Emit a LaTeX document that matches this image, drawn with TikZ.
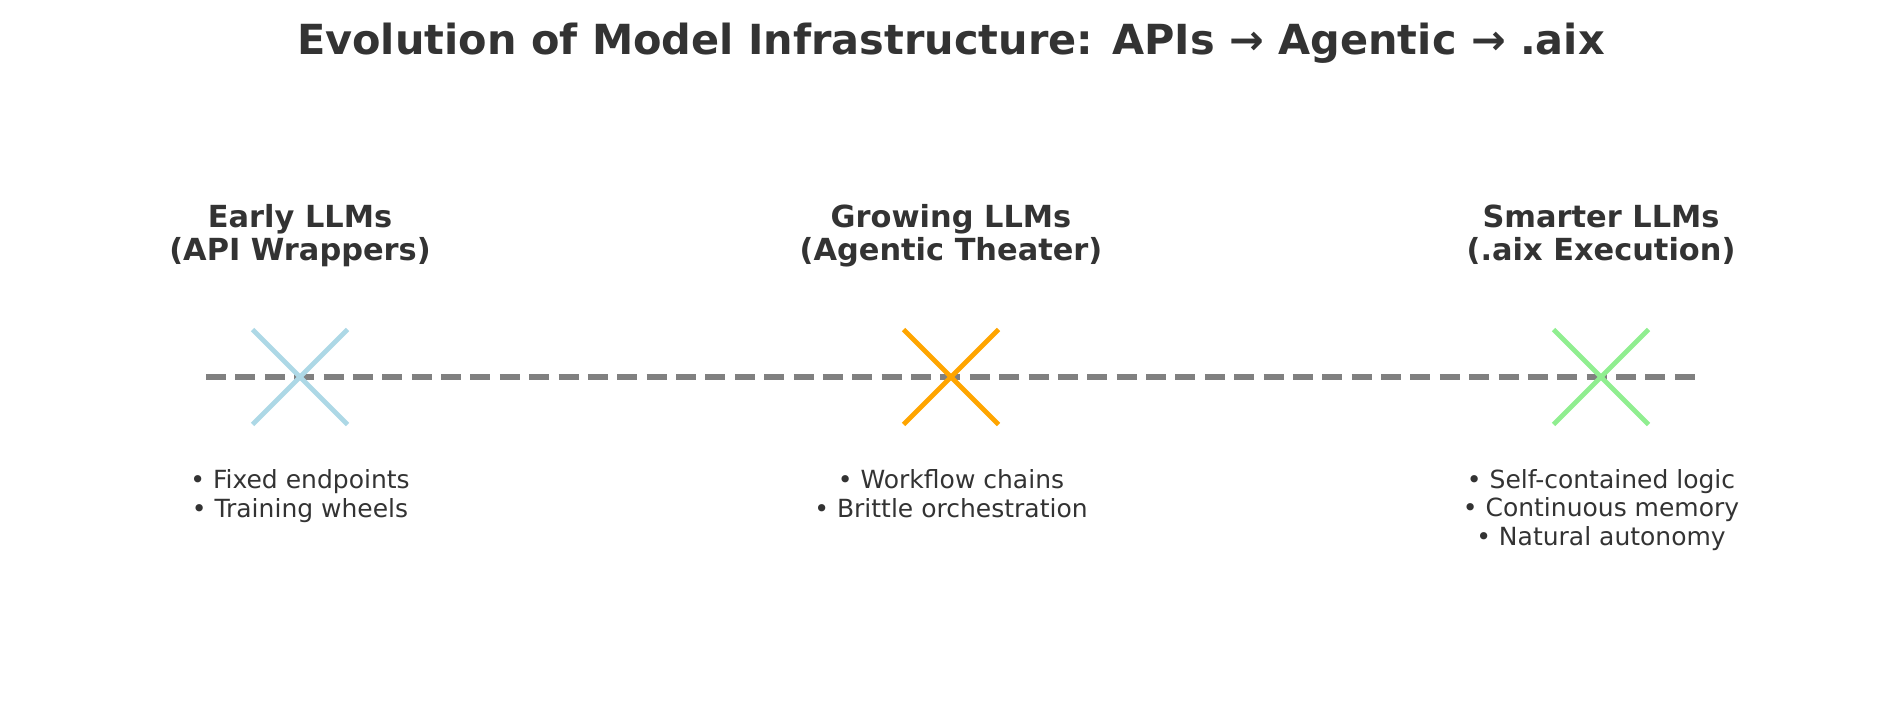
\documentclass[tikz,border=0pt]{standalone}
\usepackage{fontspec}
\setmainfont{DejaVu Sans}

\definecolor{inkgray}{RGB}{51,51,51}
\definecolor{linegray}{RGB}{128,128,128}
\definecolor{earlyblue}{RGB}{173,216,230}
\definecolor{groworange}{RGB}{255,165,0}
\definecolor{smartgreen}{RGB}{144,238,144}

\tikzset{
  headtext/.style={anchor=base, align=center, text=inkgray, inner sep=0pt,
    font=\fontsize{14.6}{16.2}\selectfont\bfseries},
  itemtext/.style={anchor=base, align=center, text=inkgray, inner sep=0pt,
    font=\fontsize{12}{13.6}\selectfont},
  timeline/.style={draw=linegray, line width=2.8pt, dash pattern=on 9.6pt off 4.5pt},
  stagemark/.style={line width=2.3pt}
}

\begin{document}
\begin{tikzpicture}[x=0.48pt, y=-0.48pt]
		\useasboundingbox (0,0) rectangle (1900,705);
		
		% Draw title
		\node (title) [anchor=base, text=inkgray, inner sep=0pt,
		  font=\fontsize{19.9}{24}\selectfont\bfseries] at (951,55)
		  {Evolution of Model Infrastructure: APIs → Agentic → .aix};
		
		% Draw time line
		\coordinate (linestart) at (206,377);
		\coordinate (lineend) at (1700,377);
		\draw [timeline] (linestart) -- (lineend);
		
		\begin{scope}[shift={(300,377)}]
		% Draw stage mark
		\coordinate (early) at (0,0);
		\draw [stagemark, earlyblue] (-47.5,-47.5) -- (47.5,47.5);
		\draw [stagemark, earlyblue] (-47.5,47.5) -- (47.5,-47.5);
		
		% Draw stage labels
		\node (earlyhead) [headtext] at (0,-116) {Early LLMs\\(API Wrappers)};
		\node (earlyitems) [itemtext] at (0,140) {• Fixed endpoints\\• Training wheels};
		\end{scope}
		
		\begin{scope}[shift={(951,377)}]
		% Draw stage mark
		\coordinate (growing) at (0,0);
		\draw [stagemark, groworange] (-47.5,-47.5) -- (47.5,47.5);
		\draw [stagemark, groworange] (-47.5,47.5) -- (47.5,-47.5);
		
		% Draw stage labels
		\node (growinghead) [headtext] at (0,-116) {Growing LLMs\\(Agentic Theater)};
		\node (growingitems) [itemtext] at (0,140) {• Workflow chains\\• Brittle orchestration};
		\end{scope}
		
		\begin{scope}[shift={(1601,377)}]
		% Draw stage mark
		\coordinate (smarter) at (0,0);
		\draw [stagemark, smartgreen] (-47.5,-47.5) -- (47.5,47.5);
		\draw [stagemark, smartgreen] (-47.5,47.5) -- (47.5,-47.5);
		
		% Draw stage labels
		\node (smarterhead) [headtext] at (0,-116) {Smarter LLMs\\(.aix Execution)};
		\node (smarteritems) [itemtext] at (0,168) {• Self-contained logic\\• Continuous memory\\• Natural autonomy};
		\end{scope}
\end{tikzpicture}
\end{document}
